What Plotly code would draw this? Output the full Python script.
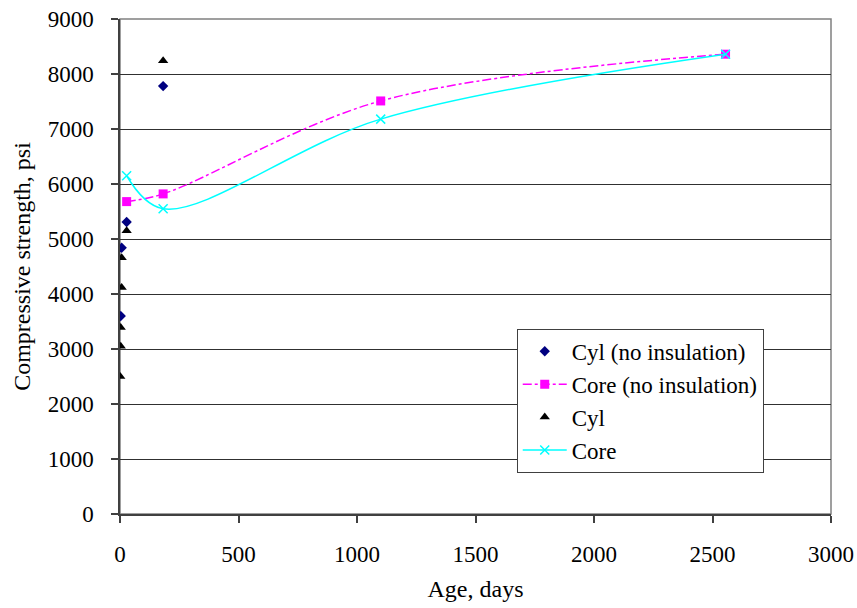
import plotly.graph_objects as go

# Data
cyl_noins_x = [3, 7, 28, 182]
cyl_noins_y = [3600, 4840, 5310, 7780]

core_noins_x = [28, 182, 1100, 2555]
core_noins_y = [5680, 5820, 7510, 8360]

cyl_ins_x = [1, 3, 3, 7, 7, 28, 182]
cyl_ins_y = [2500, 3050, 3390, 4120, 4660, 5150, 8240]

core_ins_x = [28, 182, 1100, 2555]
core_ins_y = [6150, 5550, 7180, 8360]

FONT = "Times New Roman, Liberation Serif, serif"

fig = go.Figure()
fig.add_trace(go.Scatter(x=cyl_noins_x, y=cyl_noins_y, mode="markers", name="Cyl (no insulation)",
                         marker=dict(symbol="diamond", color="#000080", size=8), legendgroup="a"))
fig.add_trace(go.Scatter(x=core_noins_x, y=core_noins_y, mode="lines+markers", name="Core (no insulation)",
                         line=dict(color="#FF00FF", width=1.5, dash="dashdot", shape="spline", smoothing=1),
                         marker=dict(symbol="square", color="#FF00FF", size=9), legendgroup="b"))
fig.add_trace(go.Scatter(x=cyl_ins_x, y=cyl_ins_y, mode="markers", name="Cyl",
                         marker=dict(symbol="triangle-up", color="black", size=9), legendgroup="c"))
fig.add_trace(go.Scatter(x=core_ins_x, y=core_ins_y, mode="lines+markers", name="Core",
                         line=dict(color="#00FFFF", width=1.5, shape="spline", smoothing=1),
                         marker=dict(symbol="x-thin-open", color="#00FFFF", size=9,
                                     line=dict(color="#00FFFF", width=1.5)), legendgroup="d"))

fig.add_shape(type="rect", xref="paper", yref="paper", x0=0, y0=0, x1=1, y1=1,
              line=dict(color="#808080", width=1.5), layer="below")

fig.update_layout(
    width=857, height=608,
    margin=dict(l=120, r=26, t=19, b=94),
    paper_bgcolor="white", plot_bgcolor="white",
    font=dict(family=FONT, size=23, color="black"),
    showlegend=True,
    legend=dict(x=0.558, y=0.374, xanchor="left", yanchor="top",
                bgcolor="white", bordercolor="#404040", borderwidth=1,
                font=dict(family=FONT, size=23), tracegroupgap=0,
                itemwidth=44, entrywidth=275, entrywidthmode="pixels"),
    xaxis=dict(range=[0, 3000], dtick=500, tick0=0, showgrid=False, zeroline=False,
               automargin=False,
               showline=True, linecolor="#404040", linewidth=1.5,
               ticks="outside", ticklen=7, tickcolor="#404040", tickwidth=1.5,
               ticklabelstandoff=12,
               tickfont=dict(family=FONT, size=23),
               title=dict(text="Age, days", font=dict(family=FONT, size=24), standoff=14)),
    yaxis=dict(range=[0, 9000], dtick=1000, tick0=0, showgrid=True, gridcolor="#303030", gridwidth=1.2,
               automargin=False,
               zeroline=False, showline=True, linecolor="#404040", linewidth=1.5,
               ticks="outside", ticklen=7, tickcolor="#404040", tickwidth=1.5,
               ticklabelstandoff=13,
               tickfont=dict(family=FONT, size=23),
               title=dict(text="Compressive strength, psi", font=dict(family=FONT, size=24), standoff=10)),
)

fig.write_html("out.html")
